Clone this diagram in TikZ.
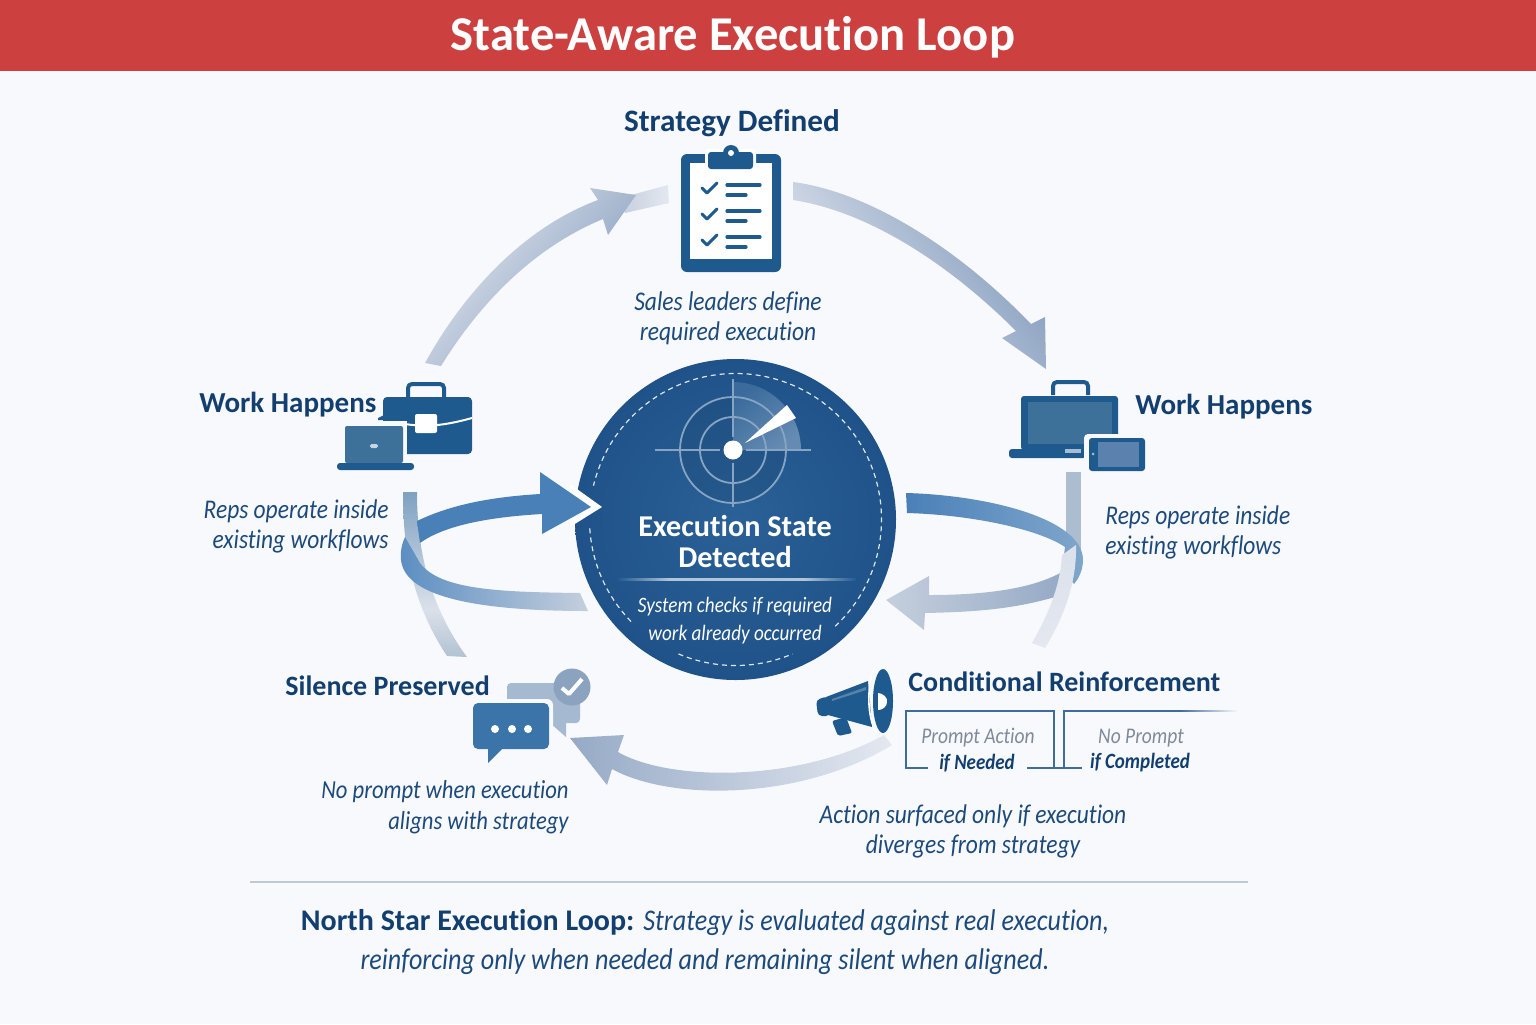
\documentclass[tikz,border=0pt]{standalone}
\usepackage{fontspec}
\setmainfont{Carlito}[Ligatures=NoCommon, ItalicFeatures={FakeStretch=0.87}, BoldItalicFeatures={FakeStretch=0.87}]
\usepackage{tikz}
\usetikzlibrary{arrows.meta}

\definecolor{paper}{HTML}{F8F9FD}
\definecolor{navy}{HTML}{123F70}
\definecolor{inkblue}{HTML}{1D4A7C}
\definecolor{disc}{HTML}{245A91}
\definecolor{discin}{HTML}{2A6197}
\definecolor{discout}{HTML}{1F5288}
\definecolor{icon}{HTML}{1F5A8E}
\definecolor{screen}{HTML}{3D7199}
\definecolor{boxline}{HTML}{3E6C9E}
\definecolor{barside}{HTML}{CC4040}
\definecolor{barmid}{HTML}{DB4B47}
\definecolor{mistpale}{HTML}{E4E8F0}
\definecolor{mistmid}{HTML}{C5CFDD}
\definecolor{miststeel}{HTML}{96AAC6}
\definecolor{mistdeep}{HTML}{8099BB}
\definecolor{vertblue}{HTML}{7DA0C1}
\definecolor{vertpale}{HTML}{DBE1EA}
\definecolor{vertlow}{HTML}{AFC0D0}
\definecolor{vertright}{HTML}{ACBDD0}
\definecolor{bandblue}{HTML}{4A80B8}
\definecolor{bandpale}{HTML}{5C8EC2}
\definecolor{bandlite}{HTML}{7FA6CB}
\definecolor{bubble}{HTML}{3B74A8}
\definecolor{bubbleback}{HTML}{A5B9D0}
\definecolor{tick}{HTML}{8CA3BF}
\definecolor{tablet}{HTML}{5B82AE}
\definecolor{rulegray}{HTML}{BEC8D6}
\definecolor{fadetext}{HTML}{808A9A}

\tikzset{
    headtext/.style={font=\fontsize{14}{18}\selectfont\bfseries, text=navy, inner sep=0pt},
    notetext/.style={font=\fontsize{13.5}{15}\selectfont\itshape, text=inkblue, inner sep=0pt},
    choicetop/.style={font=\fontsize{11.2}{14}\selectfont\itshape, text=fadetext, inner sep=0pt},
    choicelow/.style={font=\fontsize{10.9}{14}\selectfont\itshape\bfseries, text=navy, inner sep=0pt},
    disctext/.style={font=\fontsize{11}{14}\selectfont\itshape, text=white, inner sep=0pt},
    dashring/.style={white!85!disc, line width=0.6pt, dash pattern=on 2.5pt off 2pt},
    radarline/.style={white!45!disc, line width=0.9pt},
    wrapline/.style={boxline, line width=0.8pt},
    chkline/.style={icon, line width=1.5pt, line cap=round, line join=round},
    barline/.style={icon, line width=1.6pt, line cap=round},
}

\begin{document}
\begin{tikzpicture}[x=0.5pt, y=-0.5pt]
    \useasboundingbox (0, 0) rectangle (1536, 1024);
    \fill[paper] (0, 0) rectangle (1536, 1024);
    \shade[left color=barside, middle color=barmid, right color=barside] (0, 0) rectangle (1536, 70);
    \node[font=\fontsize{24.3}{28}\selectfont\bfseries, text=white, inner sep=0pt] (title) at (733, 37) {State-Aware Execution Loop};

    \coordinate (planHead) at (636, 195);
    \coordinate (workHead) at (1046, 369);
    \coordinate (detectHead) at (591, 507);
    \coordinate (backHead) at (886, 600);
    \coordinate (silenceHead) at (570, 738);
    \coordinate (hub) at (733, 450);

    % outer ribbons
    \shade[left color=mistmid, right color=mistpale] (620, 198) -- (668, 185) -- (669, 203) -- (625, 213) -- cycle;
    \shade[left color=mistpale, right color=mistdeep, shading angle=50]
        (425, 363) .. controls (468, 285) and (530, 225) .. (598, 200) -- (590, 188) -- (planHead) -- (608, 235) -- (603, 219) .. controls (540, 245) and (485, 295) .. (441, 366) -- cycle;
    \shade[left color=mistpale, right color=mistdeep, shading angle=125]
        (793, 182) .. controls (870, 192) and (960, 250) .. (1031, 324) -- (1045, 317) -- (workHead) -- (1002, 338) -- (1016, 331) .. controls (950, 265) and (870, 212) .. (793, 200) -- cycle;
    \shade[left color=miststeel, right color=mistpale]
        (silenceHead) -- (624, 735) -- (618, 752) .. controls (670, 782) and (800, 782) .. (884, 735) -- (892, 745) .. controls (800, 801) and (670, 801) .. (612, 769) -- (607, 785) -- cycle;

    % centre disc
    \shade[inner color=discin, outer color=discout] (735.5, 519.5) circle[radius=160.5];
    \begin{scope}[shift={(735.5, 519.5)}]
        \draw[dashring] (47:146) arc[start angle=47, end angle=-166.6, radius=146];
        \draw[dashring] (-183.5:146) arc[start angle=-183.5, end angle=-224.6, radius=146];
        \draw[dashring] (-247:146) arc[start angle=-247, end angle=-293, radius=146];
    \end{scope}
    \begin{scope}[shift={(hub)}]
        \fill[disc!80!black, opacity=0.3] (0, 0) circle[radius=53];
        \shade[left color=disc!90!white, right color=disc!70!white, shading angle=40] (0, 0) -- (0:68) arc[start angle=0, end angle=-90, radius=68] -- cycle;
        \draw[radarline] (0, 0) circle[radius=53];
        \draw[radarline] (0, 0) circle[radius=33];
        \draw[radarline] (-78, 0) -- (-13, 0) (13, 0) -- (78, 0);
        \draw[radarline] (0, -71) -- (0, -13) (0, 13) -- (0, 57);
        \fill[white] (12, -7) -- (54, -45) -- (63, -32) -- cycle;
        \fill[white] (0, 0) circle[radius=9.5];
    \end{scope}
    \node[font=\fontsize{15.1}{15.5}\selectfont\bfseries, text=white, align=center, inner sep=0pt] (state) at (735, 542) {Execution State\\Detected};
    \shade[left color=disc, right color=white!65!disc] (618, 578) rectangle (670, 580.5);
    \fill[white!65!disc] (669.5, 578) rectangle (804.5, 580.5);
    \shade[left color=white!65!disc, right color=disc] (804, 578) rectangle (856, 580.5);
    \node[disctext, align=center, inner sep=0pt] (check) at (735, 620.5) {System checks if required\\work already occurred};

    % ribbons round the disc
    \begin{scope}
        \clip (403, 492) -- (417, 492) .. controls (417, 540) and (425, 600) .. (467, 657) -- (447, 656) .. controls (410, 600) and (403, 545) .. (403, 492) -- cycle;
        \shade[top color=vertblue, bottom color=vertpale] (395, 490) rectangle (475, 610);
        \shade[top color=vertpale, bottom color=vertlow] (395, 609) rectangle (475, 660);
    \end{scope}
    \shade[left color=bandpale, right color=mistmid]
        (405, 537) .. controls (400, 548) and (400, 558) .. (402, 565) .. controls (412, 600) and (490, 611) .. (588, 611) -- (580, 593) .. controls (500, 592) and (440, 590) .. (420, 563) -- cycle;
    \fill[white] (570, 484) -- (602, 507) -- (570, 527) -- cycle;
    \shade[left color=bandblue, right color=bandblue]
        (417, 521) .. controls (450, 505) and (490, 497) .. (540, 494) -- (540, 472) -- (detectHead) -- (542, 534) -- (542, 514) .. controls (490, 517) and (445, 525) .. (420, 543) -- cycle;

    \shade[left color=mistmid, right color=miststeel]
        (929, 595) .. controls (980, 595) and (1030, 590) .. (1062, 572) -- (1055, 597) .. controls (1010, 610) and (970, 612) .. (925, 613) -- (924, 630) -- (backHead) -- (929, 576) -- cycle;
    \fill[vertright] (1066, 472) rectangle (1081, 560);
    \shade[left color=bandblue, right color=bandlite]
        (906, 493) .. controls (985, 495) and (1083, 518) .. (1083, 560) .. controls (1083, 568) and (1080, 577) .. (1074, 584) -- (1062, 570) -- (1065, 547) .. controls (1040, 530) and (975, 515) .. (907, 513) -- cycle;
    \shade[top color=vertpale, bottom color=mistpale]
        (1062, 555) .. controls (1060, 590) and (1045, 620) .. (1032, 643) -- (1045, 648) .. controls (1062, 620) and (1077, 585) .. (1076, 545) -- cycle;

    % clipboard
    \fill[icon, rounded corners=3pt] (681, 154) rectangle (781, 272);
    \fill[white] (690, 163) rectangle (772, 259);
    \fill[white, rounded corners=2pt] (705, 149) rectangle (756, 172);
    \fill[icon] (731, 153) circle[radius=8];
    \fill[icon, rounded corners=1.5pt] (708, 152) rectangle (753, 169);
    \fill[white] (731, 153) circle[radius=3];
    \foreach \rowy in {0, 26, 52} {
        \draw[chkline] (702, 188+\rowy) -- (707, 193+\rowy) -- (717, 183+\rowy);
        \draw[barline] (727, 185+\rowy) -- (760, 185+\rowy);
        \draw[barline] (727, 195+\rowy) -- (746, 195+\rowy);
    }

    % briefcase and laptop
    \draw[icon, line width=2pt, rounded corners=2pt] (408, 397) -- (408, 384) -- (444, 384) -- (444, 397);
    \fill[icon, rounded corners=2pt] (383, 397) rectangle (472, 454);
    \fill[paper] (375, 421) rectangle (407, 460);
    \fill[icon] (378, 420) -- (386, 420) -- (386, 414) -- (378, 418) -- cycle;
    \draw[white, line width=1pt] (405, 424) .. controls (430, 428) and (450, 424) .. (472, 418);
    \fill[white, rounded corners=1pt] (415, 414) rectangle (437, 433);
    \fill[screen, rounded corners=1pt] (345, 426) rectangle (403, 463);
    \fill[icon, rounded corners=1.5pt] (337, 463) rectangle (414, 470);
    \fill[white!75!icon, rounded corners=0.8pt] (370, 444) rectangle (378, 448);

    % laptop and tablet
    \draw[icon, line width=2pt, rounded corners=2pt] (1053, 395) -- (1053, 382) -- (1088, 382) -- (1088, 395);
    \fill[icon, rounded corners=1.5pt] (1021, 396) rectangle (1118, 450);
    \fill[screen] (1028, 402) rectangle (1112, 444);
    \fill[icon, rounded corners=1.5pt] (1009, 449) rectangle (1086, 458);
    \fill[white!60!icon] (1065, 449) rectangle (1081, 453);
    \fill[paper, rounded corners=2pt] (1084, 434) rectangle (1148, 474);
    \fill[icon, rounded corners=1.5pt] (1089, 438) rectangle (1145, 471);
    \fill[tablet] (1098, 442) rectangle (1139, 467);
    \fill[white!60!icon] (1093, 454) circle[radius=1.5];

    % chat bubbles
    \fill[bubbleback, rounded corners=2pt] (507, 683) rectangle (580, 723);
    \fill[bubbleback] (550, 723) -- (566, 737) -- (566, 723) -- cycle;
    \fill[paper, rounded corners=3pt] (469, 699) rectangle (553, 753);
    \fill[bubble, rounded corners=2.5pt] (473, 703) rectangle (549, 749);
    \fill[bubble] (488, 748) -- (488, 763) -- (503, 748) -- cycle;
    \foreach \dotx in {495, 512, 528} {
        \fill[white] (\dotx, 729) circle[radius=4];
    }
    \fill[tick] (572, 687) circle[radius=18.5];
    \draw[white, line width=2pt, line join=round] (562, 688) -- (569, 694) -- (582, 679);

    % megaphone
    \fill[icon, rounded corners=2pt] (816, 700) -- (828, 696) -- (830, 716) -- (818, 716) -- cycle;
    \fill[icon] (826, 697) -- (868, 681) -- (872, 727) -- (828, 715) -- cycle;
    \fill[white!25!icon] (832, 699) -- (866, 687) -- (866, 690) -- (832, 701) -- cycle;
    \fill[icon, rounded corners=1pt] (832, 721) -- (846, 717) -- (852, 733) -- (838, 736) -- cycle;
    \fill[icon] (883, 701) ellipse[x radius=10, y radius=32];
    \fill[white] (878, 693) .. controls (883, 693) and (888, 698) .. (887, 702) .. controls (887, 707) and (882, 710) .. (878, 710) -- cycle;
    \draw[white, line width=0.8pt] (873, 670) .. controls (867, 690) and (867, 715) .. (876, 733);

    % option boxes
    \draw[wrapline] (928, 768) -- (906, 768) -- (906, 711) -- (1054, 711) -- (1054, 768);
    \draw[wrapline] (1027, 768) -- (1082, 768);
    \draw[wrapline] (1064, 768) -- (1064, 711) -- (1180, 711);
    \shade[left color=boxline, right color=paper] (1180, 710.2) rectangle (1238, 711.8);

    % labels
    \node[headtext, font=\fontsize{15.6}{18}\selectfont\bfseries] (plan) at (732, 123) {Strategy Defined};
    \node[notetext, align=center] (planNote) at (728, 318) {Sales leaders define\\required execution};
    \node[headtext, font=\fontsize{14.5}{18}\selectfont\bfseries, anchor=west] (workL) at (199, 405) {Work Happens};
    \node[notetext, align=right, anchor=east] (workLNote) at (389, 526) {Reps operate inside\\existing workflows};
    \node[headtext, font=\fontsize{14.5}{18}\selectfont\bfseries, anchor=west] (workR) at (1135, 407) {Work Happens};
    \node[notetext, align=left, anchor=west] (workRNote) at (1105, 532) {Reps operate inside\\existing workflows};
    \node[headtext, anchor=west] (silence) at (285, 686) {Silence Preserved};
    \node[notetext, font=\fontsize{13}{15.5}\selectfont\itshape, align=right, anchor=east] (silenceNote) at (569, 807) {No prompt when execution\\aligns with strategy};
    \node[headtext, anchor=west] (reinforce) at (908, 682) {Conditional Reinforcement};
    \node[choicetop] (promptA) at (978, 738) {Prompt Action};
    \node[choicelow] (promptB) at (977, 763) {if Needed};
    \node[choicetop] (noA) at (1141, 738) {No Prompt};
    \node[choicelow] (noB) at (1140, 763) {if Completed};
    \node[notetext, align=center] (reinforceNote) at (973, 831.5) {Action surfaced only if execution\\diverges from strategy};

    \draw[rulegray, line width=0.7pt] (250, 882) -- (1248, 882);
    \node[font=\fontsize{15}{19.5}\selectfont, text=inkblue, align=center, inner sep=0pt] (north) at (705, 942) {{\bfseries\color{navy}North Star Execution Loop:} \textit{Strategy is evaluated against real execution,}\\\textit{reinforcing only when needed and remaining silent when aligned.}};
\end{tikzpicture}
\end{document}
